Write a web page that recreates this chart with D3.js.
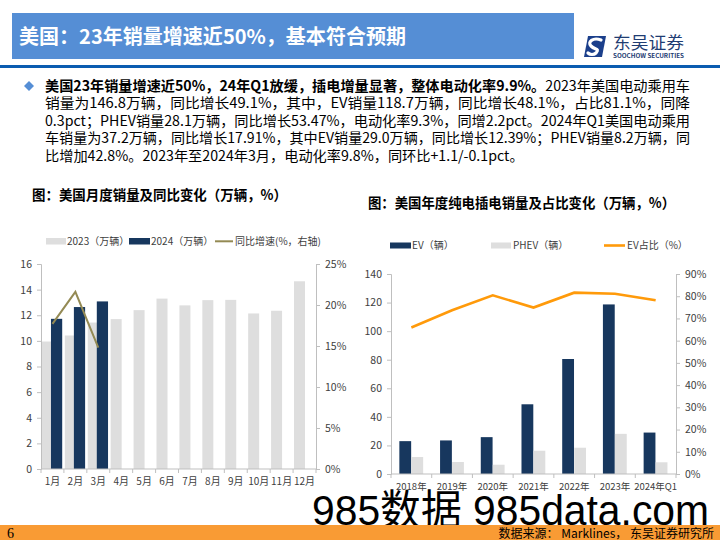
<!DOCTYPE html>
<html><head><meta charset="utf-8">
<script src="https://cdn.jsdelivr.net/npm/d3@7/dist/d3.min.js"></script>
<style>
html,body{margin:0;padding:0;background:#fff;}
svg{display:block;font-family:"Noto Sans CJK SC","Noto Sans",sans-serif;}
</style></head>
<body>
<svg id="c" width="720" height="540"></svg>
<script>
// ---- data ----
const months = ["1月","2月","3月","4月","5月","6月","7月","8月","9月","10月","11月","12月"];
const sales2023 = [9.95,10.42,11.43,11.7,12.4,13.3,12.77,13.18,13.2,12.14,12.35,14.65];
const sales2024 = [11.72,12.64,13.08];
const yoy2024 = [0.177,0.216,0.148];
const leftTicks = [0,2,4,6,8,10,12,14,16];
const leftPctTicks = [0,0.05,0.10,0.15,0.20,0.25];

const years = ["2018年","2019年","2020年","2021年","2022年","2023年","2024年Q1"];
const evSales = [23.0,23.5,25.8,48.8,80.5,118.7,29.0];
const phevSales = [11.9,8.4,6.5,16.3,18.4,28.1,8.2];
const evShare = [0.659,0.737,0.804,0.749,0.816,0.811,0.782];
const rightTicks = [0,20,40,60,80,100,120,140];
const rightPctTicks = [0,0.1,0.2,0.3,0.4,0.5,0.6,0.7,0.8,0.9];

const textLines = [
  ["美国23年销量增速近50%，24年Q1放缓，插电增量显著，整体电动化率9.9%。","2023年美国电动乘用车"],
  ["","销量为146.8万辆，同比增长49.1%，其中，EV销量118.7万辆，同比增长48.1%，占比81.1%，同降"],
  ["","0.3pct；PHEV销量28.1万辆，同比增长53.47%，电动化率9.3%，同增2.2pct。2024年Q1美国电动乘用"],
  ["","车销量为37.2万辆，同比增长17.91%，其中EV销量29.0万辆，同比增长12.39%；PHEV销量8.2万辆，同"],
  ["","比增加42.8%。2023年至2024年3月，电动化率9.8%，同环比+1.1/-0.1pct。"]
];

const NAVY="#17375e", GRAY="#dedede", OLIVE="#948a54", ORANGE="#ff9a0a", AX="#bfbfbf", LBL="#404040";
const svg = d3.select("#c");

// ---- header ----
svg.append("rect").attr("x",12).attr("y",13).attr("width",562).attr("height",46).attr("fill","#558ed5");
svg.append("text").attr("x",19).attr("y",44).attr("fill","#fff").attr("font-size",20).attr("font-weight","bold")
  .attr("textLength",387).attr("lengthAdjust","spacingAndGlyphs").text("美国：23年销量增速近50%，基本符合预期");
svg.append("rect").attr("x",0).attr("y",65).attr("width",720).attr("height",3).attr("fill","#0a5cb0");
// logo
const lg = svg.append("g");
lg.append("path").attr("d","M588,36 L606,36 L602,57 L584,57 Z").attr("fill","#1b3f8b");
lg.append("path").attr("d","M601,40 C593,37 587,42 591,46 C595,50 600,48 596,53 C594,55 590,55 588,53")
  .attr("fill","none").attr("stroke","#fff").attr("stroke-width",3.2).attr("stroke-linecap","round");
lg.append("text").attr("x",613).attr("y",49).attr("font-size",16.5).attr("fill","#1f3d73")
  .attr("textLength",71).attr("lengthAdjust","spacingAndGlyphs").text("东吴证券");
lg.append("text").attr("x",613).attr("y",57.5).attr("font-size",5.6).attr("font-weight","bold").attr("fill","#1f3d73")
  .attr("textLength",71).attr("lengthAdjust","spacingAndGlyphs").text("SOOCHOW SECURITIES");

// ---- paragraph ----
svg.append("path").attr("d","M29,81 L34,86 L29,91 L24,86 Z").attr("fill","#558ed5");
textLines.forEach((ln,i)=>{
  const t = svg.append("text").attr("x",45).attr("y",91+i*17.4).attr("font-size",14.2).attr("fill","#000");
  if(i<4) t.attr("textLength",645).attr("lengthAdjust","spacingAndGlyphs");
  if(ln[0]) t.append("tspan").attr("font-weight","bold").text(ln[0]);
  t.append("tspan").text(ln[1]);
});

// ---- chart titles ----
svg.append("text").attr("x",32).attr("y",200).attr("font-size",14).attr("font-weight","bold")
  .attr("textLength",255).attr("lengthAdjust","spacingAndGlyphs").text("图：美国月度销量及同比变化（万辆，%）");
svg.append("text").attr("x",368).attr("y",208).attr("font-size",14).attr("font-weight","bold")
  .attr("textLength",307).attr("lengthAdjust","spacingAndGlyphs").text("图：美国年度纯电插电销量及占比变化（万辆，%）");

function styleAxis(g){
  g.selectAll(".domain").attr("stroke",AX);
  g.selectAll(".tick line").attr("stroke",AX);
  g.selectAll(".tick text").attr("fill",LBL).attr("font-size",10.5).attr("font-family","'Noto Sans CJK SC',sans-serif");
}
function bottomAxis(x, y0, labelY, fs){
  const g = svg.append("g");
  const r = x.range();
  g.append("line").attr("x1",r[0]).attr("x2",r[1]).attr("y1",y0).attr("y2",y0).attr("stroke",AX);
  const bounds = x.domain().map(d=>x(d)).concat([r[1]]);
  g.selectAll("line.tk").data(bounds).join("line").attr("class","tk")
    .attr("x1",d=>d).attr("x2",d=>d).attr("y1",y0).attr("y2",y0+4).attr("stroke",AX);
  g.selectAll("text").data(x.domain()).join("text")
    .attr("x",d=>x(d)+x.bandwidth()/2).attr("y",labelY).attr("text-anchor","middle")
    .attr("font-size",fs).attr("fill",LBL).text(d=>d);
}

// ---- left chart ----
{
  const x = d3.scaleBand().domain(months).range([41,316]).padding(0);
  const y = d3.scaleLinear().domain([0,16]).range([469,264]);
  const y2 = d3.scaleLinear().domain([0,0.25]).range([469,264]);
  const bw = x.bandwidth();
  svg.append("g").selectAll("rect").data(months).join("rect")
    .attr("x",m=>x(m)+bw*0.04).attr("width",bw*0.48)
    .attr("y",(m,i)=>y(sales2023[i])).attr("height",(m,i)=>y(0)-y(sales2023[i])).attr("fill",GRAY);
  svg.append("g").selectAll("rect").data(months.slice(0,sales2024.length)).join("rect")
    .attr("x",m=>x(m)+bw*0.435).attr("width",bw*0.49)
    .attr("y",(m,i)=>y(sales2024[i])).attr("height",(m,i)=>y(0)-y(sales2024[i])).attr("fill",NAVY);
  const line = d3.line().x((d,i)=>x(months[i])+bw/2).y(d=>y2(d));
  svg.append("path").datum(yoy2024).attr("d",line).attr("fill","none").attr("stroke",OLIVE).attr("stroke-width",2);
  styleAxis(svg.append("g").attr("transform","translate(41,0)")
    .call(d3.axisLeft(y).tickValues(leftTicks).tickSize(4).tickPadding(5)));
  styleAxis(svg.append("g").attr("transform","translate(316,0)")
    .call(d3.axisRight(y2).tickValues(leftPctTicks).tickSize(4).tickPadding(5).tickFormat(d3.format(".0%"))));
  bottomAxis(x,469,485,10);
  // legend
  const lg = svg.append("g").attr("font-size",10).attr("fill",LBL);
  lg.append("rect").attr("x",46).attr("y",238).attr("width",20).attr("height",6.5).attr("fill",GRAY);
  lg.append("text").attr("x",67).attr("y",245).text("2023（万辆）");
  lg.append("rect").attr("x",129).attr("y",238).attr("width",21).attr("height",6.5).attr("fill",NAVY);
  lg.append("text").attr("x",151).attr("y",245).text("2024（万辆）");
  lg.append("line").attr("x1",215).attr("x2",233).attr("y1",241.3).attr("y2",241.3).attr("stroke",OLIVE).attr("stroke-width",2);
  lg.append("text").attr("x",235).attr("y",245).text("同比增速(%，右轴)");
}

// ---- right chart ----
{
  const x = d3.scaleBand().domain(years).range([391,676]).padding(0);
  const y = d3.scaleLinear().domain([0,140]).range([474,274]);
  const y2 = d3.scaleLinear().domain([0,0.9]).range([474,274]);
  const bw = x.bandwidth();
  svg.append("g").selectAll("rect").data(years).join("rect")
    .attr("x",d=>x(d)+bw*0.205).attr("width",bw*0.29)
    .attr("y",(d,i)=>y(evSales[i])).attr("height",(d,i)=>y(0)-y(evSales[i])).attr("fill",NAVY);
  svg.append("g").selectAll("rect").data(years).join("rect")
    .attr("x",d=>x(d)+bw*0.5).attr("width",bw*0.29)
    .attr("y",(d,i)=>y(phevSales[i])).attr("height",(d,i)=>y(0)-y(phevSales[i])).attr("fill",GRAY);
  const line = d3.line().x((d,i)=>x(years[i])+bw/2).y(d=>y2(d));
  svg.append("path").datum(evShare).attr("d",line).attr("fill","none").attr("stroke",ORANGE).attr("stroke-width",2.6);
  styleAxis(svg.append("g").attr("transform","translate(391,0)")
    .call(d3.axisLeft(y).tickValues(rightTicks).tickSize(4).tickPadding(5)));
  styleAxis(svg.append("g").attr("transform","translate(676,0)")
    .call(d3.axisRight(y2).tickValues(rightPctTicks).tickSize(4).tickPadding(5).tickFormat(d3.format(".0%"))));
  bottomAxis(x,474,490,9.5);
  const lg = svg.append("g").attr("font-size",10).attr("fill",LBL);
  lg.append("rect").attr("x",390).attr("y",242.5).attr("width",21).attr("height",6).attr("fill",NAVY);
  lg.append("text").attr("x",412).attr("y",249).text("EV（辆）");
  lg.append("rect").attr("x",491).attr("y",242.5).attr("width",20).attr("height",6).attr("fill",GRAY);
  lg.append("text").attr("x",513).attr("y",249).text("PHEV（辆）");
  lg.append("line").attr("x1",604).attr("x2",625).attr("y1",245.5).attr("y2",245.5).attr("stroke",ORANGE).attr("stroke-width",2.6);
  lg.append("text").attr("x",627).attr("y",249).text("EV占比（%）");
}

// ---- watermark & footer ----
svg.append("text").attr("x",312).attr("y",525).attr("font-size",42).attr("fill","#000")
  .attr("font-family","'Liberation Sans','Noto Sans CJK SC',sans-serif")
  .attr("textLength",397).attr("lengthAdjust","spacingAndGlyphs").text("985数据 985data.com");
svg.append("rect").attr("x",0).attr("y",525).attr("width",720).attr("height",15).attr("fill","#f99b34");
svg.append("text").attr("x",7).attr("y",538).attr("font-size",14).attr("font-family","'Liberation Serif',serif").text("6");
svg.append("text").attr("x",714).attr("y",537.5).attr("font-size",12).attr("text-anchor","end").text("数据来源： Marklines， 东吴证券研究所");
</script>
</body></html>
